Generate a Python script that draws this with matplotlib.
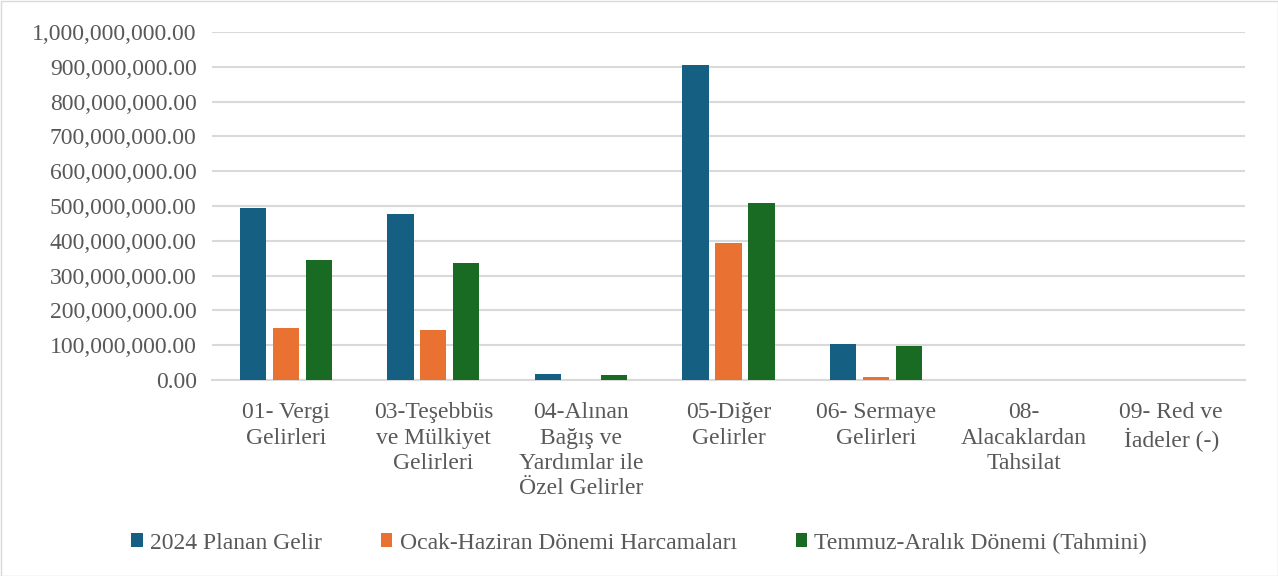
import numpy as np
import matplotlib.pyplot as plt
from matplotlib.ticker import FuncFormatter
from matplotlib.patches import Rectangle

plt.rcParams['font.family'] = ['Liberation Serif', 'DejaVu Serif']

# Kategoriler ve seriler
categories = ['01- Vergi\nGelirleri', '03-Teşebbüs\nve Mülkiyet\nGelirleri',
              '04-Alınan\nBağış ve\nYardımlar ile\nÖzel Gelirler', '05-Diğer\nGelirler',
              '06- Sermaye\nGelirleri', '08-\nAlacaklardan\nTahsilat', '09- Red ve\nİadeler (-)']
series_names = ['2024 Planan Gelir', 'Ocak-Haziran Dönemi Harcamaları',
                'Temmuz-Aralık Dönemi (Tahmini)']
planan = [494e6, 478e6, 18.5e6, 906e6, 104e6, 0, 0]
ocak_haziran = [149e6, 145e6, 0.3e6, 395e6, 7.5e6, 0, 0]
temmuz_aralik = [345e6, 335e6, 14e6, 510e6, 98e6, 0, 0]
colors = ['#156082', '#E97132', '#196B24']

fig = plt.figure(figsize=(12.78, 5.76), dpi=100)
ax = fig.add_axes([212 / 1278, 1 - 380 / 576, 1033 / 1278, 348 / 576])

x = np.arange(len(categories))
step = 0.223
for i, (vals, c, name) in enumerate(zip([planan, ocak_haziran, temmuz_aralik], colors, series_names)):
    ax.bar(x + (i - 1) * step, vals, width=0.178, color=c, label=name, zorder=3)

ax.set_xlim(-0.5, len(categories) - 0.5)
ax.set_ylim(0, 1e9)
ax.set_yticks(np.arange(0, 1.01e9, 1e8))
ax.yaxis.set_major_formatter(FuncFormatter(lambda v, p: f'{v:,.2f}'))
ax.grid(axis='y', color='#D9D9D9', linewidth=1.5, zorder=0)
for s in ['top', 'right', 'left']:
    ax.spines[s].set_visible(False)
ax.spines['bottom'].set_color('#D9D9D9')
ax.spines['bottom'].set_linewidth(1.5)
ax.tick_params(axis='both', length=0, labelsize=17, colors='#595959', pad=11)
ax.set_xticks(x)
ax.set_xticklabels(categories, linespacing=1.27, va='top')
ax.tick_params(axis='x', pad=16)

fig.legend(loc='center', bbox_to_anchor=(0.5, 1 - 543 / 576), ncol=3, frameon=False,
           fontsize=17, labelcolor='#595959', handlelength=0.5, handleheight=0.5,
           handletextpad=0.3, columnspacing=2.5)

fig.add_artist(Rectangle((0.5 / 1278, 0.5 / 576), 1 - 1 / 1278, 1 - 1 / 576, transform=fig.transFigure,
                         fill=False, edgecolor='#D9D9D9', linewidth=1))

fig.savefig('out.png', dpi=100)
